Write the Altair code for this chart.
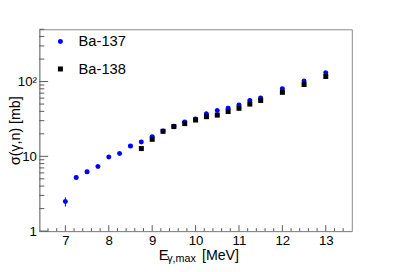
import altair as alt
import pandas as pd

# ---- data ----
x137 = [7.0, 7.25, 7.5, 7.75, 8.0, 8.25, 8.5, 8.75, 9.0, 9.25, 9.5, 9.75, 10.0,
        10.25, 10.5, 10.75, 11.0, 11.25, 11.5, 12.0, 12.5, 13.0]
y137 = [2.48, 5.2, 6.2, 7.3, 9.8, 10.9, 13.7, 15.5, 18.3, 21.8, 25.3, 28.9, 31.5,
        37.0, 40.9, 43.9, 48.5, 55.9, 60.5, 80.2, 102, 131]
e137 = [0.35, 0.25, 0.2, 0.2, 0.25, 0.25, 0.3, 0.3, 0.35, 0.4, 0.45, 0.5, 0.5,
        0.6, 0.6, 0.7, 0.7, 0.8, 0.9, 1.2, 1.5, 2.0]
x138 = [8.75, 9.0, 9.25, 9.5, 9.75, 10.0, 10.25, 10.5, 10.75, 11.0, 11.25, 11.5,
        12.0, 12.5, 13.0]
y138 = [12.7, 16.9, 21.6, 25.0, 27.4, 30.6, 33.9, 35.6, 39.8, 43.9, 50.0, 55.9,
        71.8, 91.5, 117]

x_major = [7, 8, 9, 10, 11, 12, 13]
x_minor = [6.6, 6.8, 7.2, 7.4, 7.6, 7.8, 8.2, 8.4, 8.6, 8.8, 9.2, 9.4, 9.6, 9.8,
           10.2, 10.4, 10.6, 10.8, 11.2, 11.4, 11.6, 11.8, 12.2, 12.4, 12.6, 12.8,
           13.2, 13.4]
y_major = [1, 10, 100]
y_minor = [2, 3, 4, 5, 6, 7, 8, 9, 20, 30, 40, 50, 60, 70, 80, 90, 200, 300, 400, 500]
series = ["Ba-137", "Ba-138"]
colors = ["#0000ff", "#000000"]
shapes = ["circle", "square"]

FONT = "Liberation Sans"
W, H = 319, 206

pts = pd.DataFrame(
    {"E": x137 + x138, "sigma": y137 + y138,
     "series": [series[0]] * len(x137) + [series[1]] * len(x138)}
)
err = pd.DataFrame({"E": x137,
                    "lo": [y - e for y, e in zip(y137, e137)],
                    "hi": [y + e for y, e in zip(y137, e137)]})

xs = alt.Scale(domain=[6.4, 13.6], nice=False, zero=False)
ys = alt.Scale(type="log", domain=[1, 500], nice=False)

xaxis = alt.Axis(values=x_major, ticks=False, grid=False, title=None,
                 labelFontSize=13.5, labelPadding=3, labelColor="#000",
                 labelFont=FONT, domainColor="#888")
yaxis = alt.Axis(values=y_major, ticks=False, grid=False,
                 labelExpr="datum.value == 100 ? '10\u00b2' : datum.label",
                 labelFontSize=13.5, labelPadding=3, labelColor="#000",
                 labelFont=FONT, domainColor="#888",
                 title="\u03c3(\u03b3,n) [mb]", titleFont=FONT,
                 titleFontSize=14.5, titleFontWeight="normal",
                 titleColor="#000", titleX=-24.5, titleY=103,
                 titleAngle=-90, titleAlign="center", titleBaseline="middle")

errbars = alt.Chart(err).mark_rule(color=colors[0], strokeWidth=1).encode(
    x=alt.X("E:Q", scale=xs, axis=xaxis),
    y=alt.Y("lo:Q", scale=ys, axis=yaxis),
    y2="hi:Q",
)

points = alt.Chart(pts).mark_point(filled=True, opacity=1, size=26).encode(
    x=alt.X("E:Q", scale=xs, axis=xaxis),
    y=alt.Y("sigma:Q", scale=ys, axis=yaxis),
    color=alt.Color("series:N", scale=alt.Scale(domain=series, range=colors),
                    legend=alt.Legend(title=None, orient="none", legendX=14,
                                      legendY=5, labelFontSize=15, labelFont=FONT,
                                      symbolSize=26, rowPadding=12, padding=0,
                                      labelOffset=11, symbolStrokeWidth=0)),
    shape=alt.Shape("series:N", scale=alt.Scale(domain=series, range=shapes)),
    order=alt.Order("series:N"),
)

def tick_layer(vals, axis, length):
    df = pd.DataFrame({"v": vals})
    base = alt.Chart(df).mark_rule(color="#555", strokeWidth=1)
    if axis == "x":
        return base.encode(x=alt.X("v:Q", scale=xs, axis=xaxis),
                           y=alt.value(H), y2=alt.value(H - length))
    return base.encode(y=alt.Y("v:Q", scale=ys, axis=yaxis),
                       x=alt.value(0), x2=alt.value(length))

ticks = [tick_layer(x_major, "x", 6), tick_layer(x_minor, "x", 3),
         tick_layer(y_major, "y", 9), tick_layer(y_minor, "y", 5)]

def txt(s, x, y, size):
    return alt.Chart(pd.DataFrame({"t": [s]})).mark_text(
        align="left", baseline="alphabetic", font=FONT, fontSize=size, color="#000"
    ).encode(text="t:N", x=alt.value(x), y=alt.value(y))

xtitle = [txt("E", 122, 235.3, 15), txt("\u03b3,max", 130.5, 238, 11),
          txt("[MeV]", 166, 235.3, 14.5)]

chart = alt.layer(points, errbars, *ticks, *xtitle).properties(
    width=W, height=H, autosize="none",
    padding={"left": 32, "top": 19, "right": 40, "bottom": 39},
).configure_view(stroke="#888", strokeWidth=1).configure_axis(domainWidth=1)

chart.save("out.html", embed_options={"renderer": "svg", "actions": False})
